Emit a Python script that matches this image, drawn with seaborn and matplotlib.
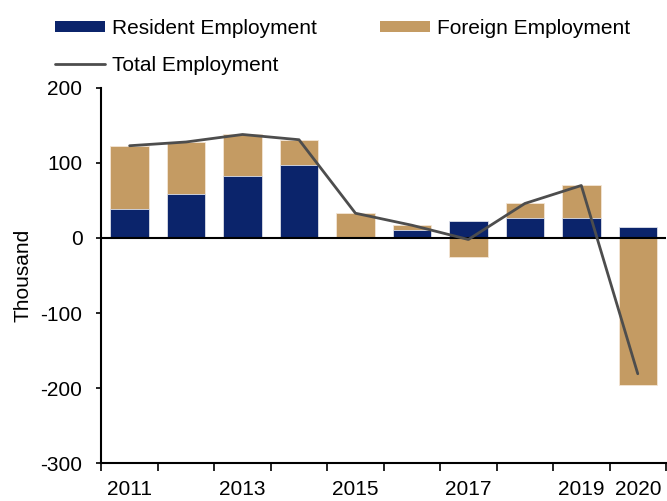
import numpy as np
import pandas as pd
import matplotlib
matplotlib.use("Agg")
import matplotlib.pyplot as plt
import seaborn as sns
from matplotlib.patches import Patch
from matplotlib.lines import Line2D

# Annual employment change, thousand persons
years = ["2011", "2012", "2013", "2014", "2015", "2016", "2017", "2018", "2019", "2020"]
resident = [38, 59, 83, 97, 0, 11, 23, 27, 27, 15]
foreign = [85, 69, 55, 34, 33, 6, -25, 19, 43, -196]
shown_year_labels = ["2011", "2013", "2015", "2017", "2019", "2020"]

resident_color = "#0B246B"
foreign_color = "#C49B63"
total_color = "#4D4D4D"

sns.set_theme(style="white")
plt.rcParams["font.family"] = ["Liberation Sans", "DejaVu Sans"]
plt.rcParams.update({"text.color": "black", "axes.labelcolor": "black",
                     "xtick.color": "black", "ytick.color": "black"})

res = np.array(resident, dtype=float)
frn = np.array(foreign, dtype=float)
total = res + frn
# foreign layer sits on top of resident when positive, hangs below zero when negative
foreign_top = np.where(frn > 0, res + frn, frn)

df = pd.DataFrame({"year": years, "resident": res, "foreign_top": foreign_top, "total": total})

fig = plt.figure(figsize=(6.67, 5.01), dpi=100)
ax = fig.add_axes([0.152, 0.0758, 0.8465, 0.7486])

bar_w = 0.68
sns.barplot(data=df, x="year", y="foreign_top", color=foreign_color, width=bar_w,
            saturation=1, edgecolor="#F3E6D6", linewidth=0.6, ax=ax, zorder=2)
sns.barplot(data=df, x="year", y="resident", color=resident_color, width=bar_w,
            saturation=1, edgecolor="#DDE1EA", linewidth=0.6, ax=ax, zorder=3)
sns.lineplot(x=np.arange(len(years)), y=df["total"].values, color=total_color,
             linewidth=2, ax=ax, zorder=5)

ax.axhline(0, color="black", linewidth=1.5, zorder=4)

ax.set_xlim(-0.5, len(years) - 0.5)
ax.set_ylim(-300, 200)
ax.set_yticks(np.arange(-300, 201, 100))
ax.set_yticklabels([str(v) for v in range(-300, 201, 100)])

# tick marks at category boundaries, labels at category centres
ax.set_xticks(np.arange(-0.5, len(years), 1.0))
ax.set_xticklabels([""] * (len(years) + 1))
ax.set_xticks(np.arange(len(years)), minor=True)
ax.set_xticklabels([y if y in shown_year_labels else "" for y in years], minor=True)
ax.tick_params(axis="x", which="major", direction="out", length=5.8, width=1.2, color="black",
               bottom=True)
ax.tick_params(axis="x", which="minor", length=0, labelsize=15, pad=12, bottom=True,
               labelcolor="black")
ax.tick_params(axis="y", direction="out", length=3.6, width=1.2, color="black", labelsize=15,
               left=True, pad=10, labelcolor="black")

ax.set_xlabel("")
ax.set_ylabel("Thousand", fontsize=15, labelpad=6, color="black")

for side in ["top", "right"]:
    ax.spines[side].set_visible(False)
for side in ["left", "bottom"]:
    ax.spines[side].set_color("black")
    ax.spines[side].set_linewidth(1.5)

handles = [
    Patch(facecolor=resident_color, edgecolor="none", label="Resident Employment"),
    Line2D([], [], color=total_color, linewidth=2, label="Total Employment"),
    Patch(facecolor=foreign_color, edgecolor="none", label="Foreign Employment"),
]
leg = fig.legend(handles=handles, loc="upper left", bbox_to_anchor=(0.082, 0.962), ncol=2,
                 frameon=False, fontsize=15, handlelength=2.4, handleheight=0.45,
                 handletextpad=0.37, columnspacing=3.0, labelspacing=0.85,
                 borderpad=0, borderaxespad=0)
for t in leg.get_texts():
    t.set_color("black")

fig.savefig("out.png", dpi=100)
